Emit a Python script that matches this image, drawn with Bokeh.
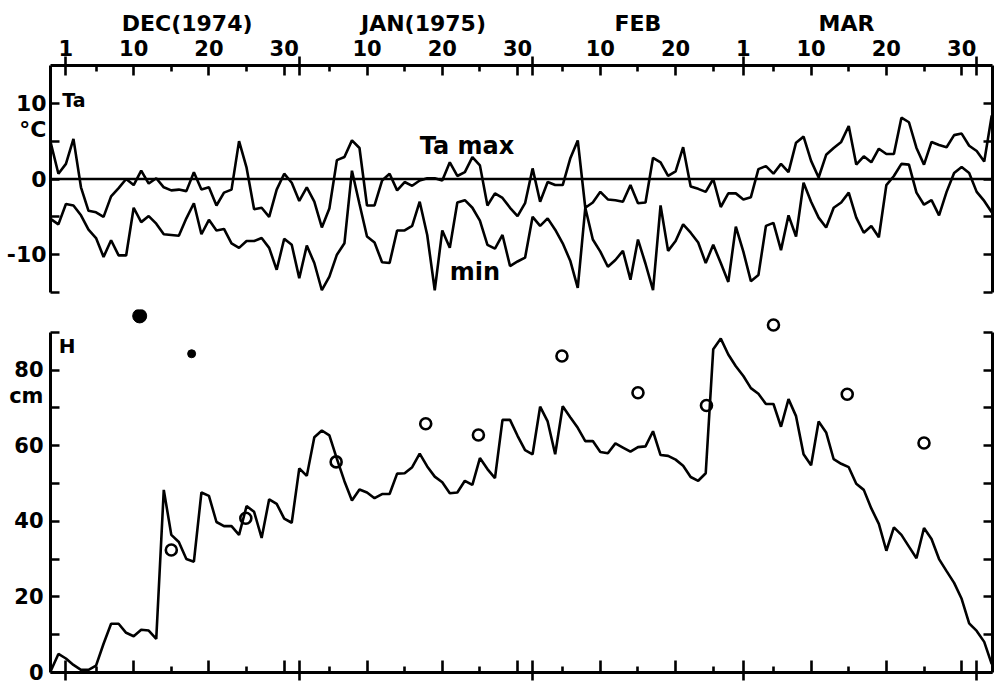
import numpy as np
from bokeh.plotting import figure
from bokeh.models import Range1d, LinearAxis, FixedTicker, Span
from bokeh.layouts import column
from bokeh.core.properties import value
from bokeh.embed import file_html
from bokeh.resources import INLINE

FONT = "DejaVu Sans"

# ---------------- data (day 0 = 1 Dec 1974) ----------------
FIRST_DAY = -2.0

ta_max = [4.7, 0.7, 2.0, 5.3, -1.1, -4.2, -4.4, -5.0, -2.3, -1.2,
          0.0, -0.8, 1.1, -0.6, 0.1, -1.1, -1.5, -1.4, -1.6, 0.9,
          -1.4, -1.1, -3.5, -1.8, -1.4, 5.0, 1.5, -4.0, -3.8, -5.0,
          -1.4, 0.7, -0.5, -2.9, -1.1, -3.0, -6.4, -3.9, 2.5, 2.9,
          5.1, 4.1, -3.5, -3.5, -0.2, 0.7, -1.5, -0.4, -0.9, -0.2,
          0.1, 0.1, -0.2, 2.2, 0.4, 0.9, 2.9, 1.8, -3.5, -1.9,
          -2.5, -3.8, -4.9, -3.2, 1.4, -3.0, -0.4, -0.8, -0.8, 2.7,
          5.1, -3.8, -3.1, -1.7, -2.7, -2.8, -3.0, -0.8, -3.2, -3.1,
          2.8, 2.2, 0.4, 1.0, 4.2, -1.0, -1.3, -1.7, 0.0, -3.7,
          -1.9, -1.9, -2.7, -2.4, 1.3, 1.7, 0.7, 2.0, 0.9, 4.8,
          5.6, 2.4, 0.2, 3.2, 4.1, 4.9, 7.0, 1.9, 3.0, 2.2,
          4.0, 3.3, 3.3, 8.1, 7.5, 4.1, 1.9, 4.9, 4.5, 4.2,
          5.8, 6.0, 4.4, 3.7, 2.3, 8.4]

ta_min = [-5.3, -6.0, -3.3, -3.5, -4.8, -6.7, -7.8, -10.3, -8.1, -10.1,
          -10.1, -3.8, -5.7, -4.9, -5.9, -7.3, -7.4, -7.5, -5.2, -3.2,
          -7.3, -5.4, -6.8, -6.6, -8.5, -9.1, -8.2, -8.2, -7.8, -9.1,
          -12.0, -7.9, -8.7, -13.1, -8.8, -11.1, -14.7, -12.9, -10.0, -8.5,
          1.1, -3.3, -7.6, -8.4, -11.0, -11.1, -6.8, -6.8, -6.2, -3.0,
          -7.4, -14.7, -6.8, -9.1, -3.1, -2.8, -3.8, -5.5, -8.7, -9.2,
          -7.4, -11.5, -10.9, -10.4, -5.0, -6.2, -5.2, -6.7, -8.5, -10.8,
          -14.4, -3.8, -8.0, -9.6, -11.6, -10.7, -9.5, -13.3, -8.0, -11.2,
          -14.7, -3.5, -9.5, -8.2, -6.0, -7.1, -8.4, -11.1, -8.7, -11.1,
          -13.6, -6.3, -9.6, -13.5, -12.7, -6.2, -5.8, -9.4, -4.8, -7.6,
          -0.5, -3.0, -5.1, -6.4, -3.8, -3.1, -1.8, -5.1, -7.1, -6.2,
          -7.7, -0.8, 0.4, 2.0, 1.9, -1.8, -3.4, -2.8, -4.8, -1.7,
          0.8, 1.6, 0.8, -1.7, -2.9, -4.4]

snow_h = [0.5, 4.9, 3.7, 2.0, 0.7, 0.7, 1.8, 7.6, 12.9, 12.9,
          10.5, 9.6, 11.3, 11.1, 8.9, 48.3, 36.4, 34.5, 30.0, 29.3,
          47.6, 46.7, 39.8, 38.7, 38.7, 36.4, 44.0, 42.5, 35.6, 45.8,
          44.6, 40.7, 39.6, 54.0, 52.0, 62.2, 64.0, 62.7, 56.5, 50.6,
          45.5, 48.4, 47.6, 46.1, 47.2, 47.2, 52.6, 52.7, 54.3, 57.9,
          54.5, 51.8, 50.3, 47.4, 47.6, 50.7, 49.6, 56.7, 53.8, 51.4,
          66.8, 66.8, 62.6, 58.8, 57.7, 70.3, 66.4, 57.7, 70.4, 67.5,
          64.7, 61.2, 61.2, 58.3, 58.0, 60.6, 59.5, 58.4, 59.6, 59.8,
          63.8, 57.5, 57.3, 56.3, 54.7, 51.7, 50.7, 52.7, 85.5, 88.3,
          84.1, 81.0, 78.4, 75.2, 73.7, 71.0, 71.0, 65.0, 72.3, 67.8,
          57.7, 54.8, 66.4, 63.5, 56.4, 55.2, 54.3, 49.9, 48.3, 43.4,
          39.3, 32.2, 38.4, 36.4, 33.3, 30.2, 38.2, 35.3, 30.0, 26.8,
          23.7, 19.5, 13.0, 11.0, 8.1, 2.2]

obs_day = [14.0, 23.9, 35.9, 47.8, 54.8, 65.9, 76.0, 85.1, 94.0, 103.8, 114.0]
obs_h = [32.4, 40.8, 55.7, 65.8, 62.8, 83.7, 74.0, 70.6, 91.9, 73.6, 60.7]

mark_day = [9.8, 16.7]
mark_h = [94.3, 84.3]

# ---------------- axis definitions ----------------
month_start = [0, 31, 62, 90, 121]
ten_day = [9, 19, 29, 40, 50, 60, 71, 81, 99, 109, 119]
five_day = [4, 14, 24, 35, 45, 55, 66, 76, 86, 94, 104, 114]
label_days = [0, 9, 19, 29, 40, 50, 60, 71, 81, 90, 99, 109, 119]
label_text = ["1", "10", "20", "30", "10", "20", "30", "10", "20", "1", "10", "20", "30"]
month_mid = [16.1, 47.5, 76, 103.7]
month_names = ["DEC(1974)", "JAN(1975)", "FEB", "MAR"]

ta_ticks = [-15, -10, -5, 0, 5, 10]
ta_label_pos = [10, 6.6, 0, -10]
ta_label_text = ["10", "°C", "0", "-10"]
h_ticks = [0, 10, 20, 30, 40, 50, 60, 70, 80, 90]
h_label_pos = [0, 20, 40, 60, 73, 80]
h_label_text = ["0", "20", "40", "60", "cm", "80"]

days = FIRST_DAY + np.arange(len(ta_max))

# ---------------- styles ----------------
LW = 2.6
mark_size = [14, 8]


def make_axis(ticks, minor=(), tick_in=0, tick_out=0, minor_in=0, line=True,
              labels=None, font_size="0px", standoff=0, bounds=None,
              show_major=True):
    ax = LinearAxis(ticker=FixedTicker(ticks=list(ticks), minor_ticks=list(minor)))
    ax.major_tick_in = tick_in
    ax.major_tick_out = tick_out
    ax.minor_tick_in = minor_in
    ax.minor_tick_out = 0
    ax.major_tick_line_width = LW
    ax.minor_tick_line_width = LW
    ax.major_tick_line_color = "black" if (show_major and (tick_in or tick_out)) else None
    ax.minor_tick_line_color = "black" if minor_in else None
    ax.axis_line_width = 3
    ax.axis_line_color = "black" if line else None
    ax.major_label_standoff = standoff
    ax.major_label_text_font = FONT
    ax.major_label_text_font_style = "bold"
    ax.major_label_text_color = "black"
    if labels is None:
        ax.major_label_text_font_size = "0px"
        ax.major_label_overrides = {t: "" for t in ticks}
    else:
        ax.major_label_overrides = dict(zip(ticks, labels))
        ax.major_label_text_font_size = font_size
    if bounds is not None:
        ax.bounds = bounds
    return ax


def clean(p):
    p.outline_line_color = None
    p.background_fill_color = "white"
    p.border_fill_color = "white"
    p.grid.visible = False


def note(p, x, y, s, size):
    p.text(x=[x], y=[y], text=[s], text_font=value(FONT), text_font_style="bold",
           text_font_size=size, text_baseline="middle", text_align="left",
           text_color="black")


xr = Range1d(-2.05, 123.1)

# ---------------- top panel: air temperature ----------------
p1 = figure(width=1000, height=303, x_range=xr, y_range=Range1d(-15, 15),
            output_backend="svg", toolbar_location=None,
            x_axis_location=None, y_axis_location=None,
            min_border_left=50, min_border_right=8,
            min_border_top=65, min_border_bottom=11)
clean(p1)

p1.add_layout(make_axis(ten_day, five_day, tick_in=10, minor_in=6), "above")
p1.add_layout(make_axis(month_start, tick_in=10, tick_out=9, line=False), "above")
p1.add_layout(make_axis(label_days, line=False, labels=label_text,
                        font_size="21px", standoff=1), "above")
p1.add_layout(make_axis(month_mid, line=False, labels=month_names,
                        font_size="22px", standoff=1), "above")
p1.add_layout(make_axis(ta_label_pos, minor=ta_ticks, minor_in=9, show_major=False,
                        labels=ta_label_text, font_size="22px", standoff=4), "left")
p1.add_layout(make_axis(ta_ticks, tick_in=9), "right")

p1.add_layout(Span(location=0, dimension="width", line_color="black", line_width=LW))
p1.line(days, ta_max, line_color="black", line_width=LW)
p1.line(days, ta_min, line_color="black", line_width=LW)

note(p1, 47.0, 4.3, "Ta max", "24px")
note(p1, 51.0, -12.3, "min", "24px")
note(p1, -0.5, 10.5, "Ta", "19px")

# ---------------- bottom panel: snow depth ----------------
p2 = figure(width=1000, height=383, x_range=xr, y_range=Range1d(0, 96),
            output_backend="svg", toolbar_location=None,
            x_axis_location=None, y_axis_location=None,
            min_border_left=50, min_border_right=8,
            min_border_top=6, min_border_bottom=14)
clean(p2)

p2.add_layout(make_axis(ten_day, five_day, tick_in=12, minor_in=6), "below")
p2.add_layout(make_axis(month_start, tick_in=12, tick_out=8, line=False), "below")
p2.add_layout(make_axis(h_label_pos, minor=h_ticks, minor_in=9, show_major=False,
                        labels=h_label_text, font_size="21px", standoff=7,
                        bounds=(0, 90)), "left")
p2.add_layout(make_axis(h_ticks, tick_in=9, bounds=(0, 90)), "right")

p2.line(days, snow_h, line_color="black", line_width=LW)
p2.scatter(obs_day, obs_h, marker="circle", size=11, fill_color=None,
           line_color="black", line_width=LW)
p2.scatter(mark_day, mark_h, marker="circle", size=mark_size,
           fill_color="black", line_color="black")

note(p2, -0.95, 86.4, "H", "20px")

layout = column(p1, p2, spacing=0)
open("out.html", "w").write(file_html(layout, INLINE))
